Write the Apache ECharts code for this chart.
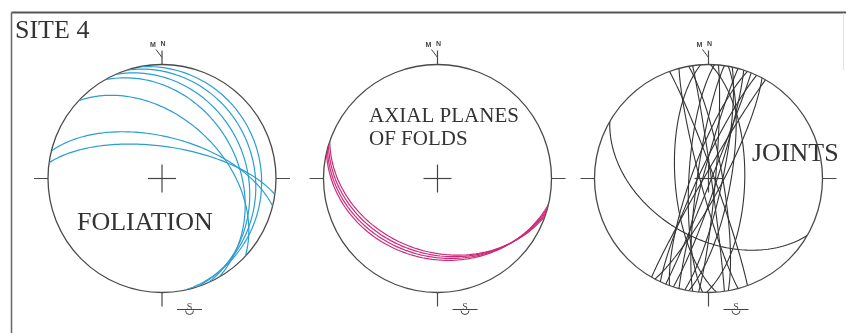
<!DOCTYPE html>
<html>
<head>
<meta charset="utf-8">
<script src="https://cdn.jsdelivr.net/npm/echarts@6/dist/echarts.min.js"></script>
<style>
  html, body { margin: 0; padding: 0; background: #fff; }
  #chart { width: 846px; height: 333px; }
</style>
</head>
<body>
<div id="chart"></div>
<script>
// Planes as [dip direction (deg), dip (deg)], lower-hemisphere equal-area net
const foliation = [
  [14, 60], [8, 67], [43, 46],
  [78, 14], [72, 20], [66, 27], [60, 34]
];
const axialPlanes = [
  [199, 36], [197, 34], [195, 32], [193, 30]
];
const joints = [
  [70, 86], [255, 84], [82, 88], [266, 66], [91, 64],
  [95, 85], [278, 82], [102, 80], [285, 86], [108, 84],
  [290, 78], [112, 88], [295, 83], [118, 80], [300, 87],
  [273, 76], [80, 80], [100, 74], [210, 47]
];
const netTitles = ['FOLIATION', 'AXIAL PLANES\nOF FOLDS', 'JOINTS'];
const siteLabel = 'SITE 4';

// Net layout: centre and radius of each primitive circle, in pixels
const nets = [
  { cx: 162, cy: 178.5 },
  { cx: 437.5, cy: 178.5 },
  { cx: 708.5, cy: 178.5 }
];
const R = 114;

const RAD = Math.PI / 180;
// Great circle of a plane, sampled as [radius, trend] pairs for the polar system
function greatCircle(dipDir, dip) {
  const s = (dipDir - 90) * RAD, d = dip * RAD, dd = dipDir * RAD;
  const S = [Math.sin(s), Math.cos(s), 0];
  const D = [Math.sin(dd) * Math.cos(d), Math.cos(dd) * Math.cos(d), Math.sin(d)];
  const pts = [];
  for (let i = 0; i <= 180; i++) {
    const a = i * RAD;
    const e = Math.cos(a) * S[0] + Math.sin(a) * D[0];
    const n = Math.cos(a) * S[1] + Math.sin(a) * D[1];
    const z = Math.sin(a) * D[2];
    const plunge = Math.asin(Math.max(-1, Math.min(1, z)));
    let trend = Math.atan2(e, n) / RAD;
    if (trend < 0) trend += 360;
    const r = Math.SQRT2 * Math.sin((Math.PI / 2 - plunge) / 2);
    pts.push([r, trend]);
  }
  return pts;
}

const setColors = ['#2a9ed2', '#cc2a78', '#333333'];
const setWidths = [1.2, 1.2, 1.1];
const planeSets = [foliation, axialPlanes, joints];
const frameColor = '#444';

const series = [];
planeSets.forEach((set, k) => {
  set.forEach(p => {
    series.push({
      type: 'line',
      coordinateSystem: 'polar',
      polarIndex: k,
      data: greatCircle(p[0], p[1]),
      showSymbol: false,
      silent: true,
      lineStyle: { color: setColors[k], width: setWidths[k] },
      z: 3
    });
  });
});

const graphic = [
  // outer frame (open at the right and bottom)
  { type: 'line', shape: { x1: 11.5, y1: 12.5, x2: 846, y2: 12.5 }, style: { stroke: '#555', lineWidth: 2 } },
  { type: 'line', shape: { x1: 11.5, y1: 12.5, x2: 11.5, y2: 333 }, style: { stroke: '#666', lineWidth: 1.5 } },
  { type: 'line', shape: { x1: 843.5, y1: 13, x2: 843.5, y2: 70 }, style: { stroke: '#e2e2e2', lineWidth: 1 } },
  { type: 'text', style: { x: 15, y: 31, text: siteLabel, font: '26px "Liberation Serif"', fill: '#333', verticalAlign: 'middle' } }
];
nets.forEach(n => {
  // centre cross
  graphic.push({ type: 'line', shape: { x1: n.cx - 14, y1: n.cy, x2: n.cx + 14, y2: n.cy }, style: { stroke: frameColor, lineWidth: 1.2 } });
  graphic.push({ type: 'line', shape: { x1: n.cx, y1: n.cy - 14, x2: n.cx, y2: n.cy + 14 }, style: { stroke: frameColor, lineWidth: 1.2 } });
  // magnetic / true north mark
  graphic.push({ type: 'line', shape: { x1: n.cx - 6, y1: n.cy - R - 15, x2: n.cx, y2: n.cy - R - 7 }, style: { stroke: frameColor, lineWidth: 1 } });
  graphic.push({ type: 'text', style: { x: n.cx - 9, y: n.cy - R - 19, text: 'M', font: 'bold 7px "Liberation Sans"', fill: '#444', align: 'center', verticalAlign: 'middle' } });
  graphic.push({ type: 'text', style: { x: n.cx + 1, y: n.cy - R - 20, text: 'N', font: 'bold 7px "Liberation Sans"', fill: '#444', align: 'center', verticalAlign: 'middle' } });
  // south mark
  graphic.push({ type: 'line', shape: { x1: n.cx + 15, y1: n.cy + R + 17, x2: n.cx + 40, y2: n.cy + R + 17 }, style: { stroke: frameColor, lineWidth: 1 } });
  graphic.push({ type: 'text', style: { x: n.cx + 27.5, y: n.cy + R + 15, text: 'S', font: '10px "Liberation Serif"', fill: '#444', align: 'center', verticalAlign: 'middle' } });
  graphic.push({ type: 'arc', shape: { cx: n.cx + 27.5, cy: n.cy + R + 18, r: 4, startAngle: 0, endAngle: Math.PI }, style: { stroke: frameColor, fill: null, lineWidth: 1 } });
});
// net titles
graphic.push({ type: 'text', style: { x: 77, y: 223, text: netTitles[0], font: '26px "Liberation Serif"', fill: '#333', verticalAlign: 'middle' } });
graphic.push({ type: 'text', style: { x: 369, y: 105, text: netTitles[1], font: '21px "Liberation Serif"', lineHeight: 23, fill: '#333', verticalAlign: 'top' } });
graphic.push({ type: 'text', style: { x: 752, y: 154.5, text: netTitles[2], font: '26px "Liberation Serif"', fill: '#333', verticalAlign: 'middle' } });

const option = {
  backgroundColor: '#fff',
  animation: false,
  polar: nets.map(n => ({ center: [n.cx, n.cy], radius: R })),
  angleAxis: nets.map((n, k) => ({
    polarIndex: k,
    type: 'value',
    min: 0, max: 360, interval: 90,
    startAngle: 90, clockwise: true,
    axisLine: { lineStyle: { color: '#4a4a4a', width: 1.3 } },
    axisTick: { show: true, length: 14, lineStyle: { color: '#4a4a4a', width: 1.2 } },
    axisLabel: { show: false },
    splitLine: { show: false }
  })),
  radiusAxis: nets.map((n, k) => ({
    polarIndex: k, type: 'value', min: 0, max: 1,
    axisLine: { show: false }, axisTick: { show: false },
    axisLabel: { show: false }, splitLine: { show: false }
  })),
  graphic: graphic,
  series: series
};

const chart = echarts.init(document.getElementById('chart'), null, { renderer: 'canvas' });
chart.setOption(option);
</script>
</body>
</html>
